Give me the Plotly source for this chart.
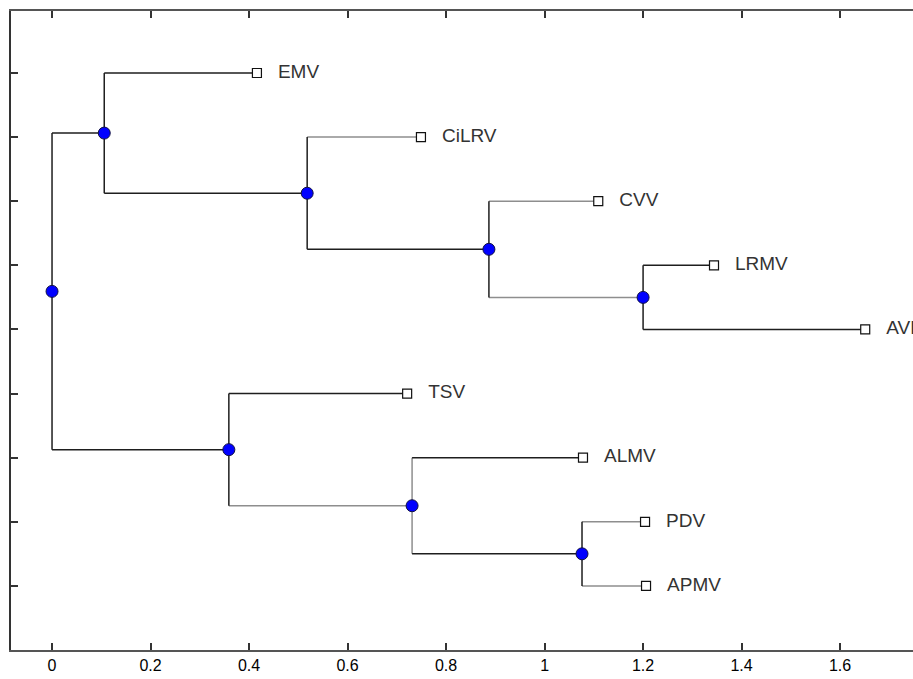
import plotly.graph_objects as go

# ---- data: leaves (top to bottom) and their distances from root
leaf_names = ["EMV", "CiLRV", "CVV", "LRMV", "AVB", "TSV", "ALMV", "PDV", "APMV"]
leaf_dist = [0.416, 0.749, 1.109, 1.344, 1.651, 0.721, 1.078, 1.204, 1.206]

# ---- internal nodes: name, distance from root, children
node_names = ["root", "n1", "n2", "n3", "n4", "n5", "n6", "n7"]
node_dist = [0.0, 0.106, 0.518, 0.887, 1.200, 0.359, 0.731, 1.076]
node_children = [
    ["n1", "n5"],
    ["EMV", "n2"],
    ["CiLRV", "n3"],
    ["CVV", "n4"],
    ["LRMV", "AVB"],
    ["TSV", "n6"],
    ["ALMV", "n7"],
    ["PDV", "APMV"],
]
# colour of the horizontal branch leading into each element ("k" dark, "g" grey)
branch_color = {
    "n1": "k", "n5": "k", "EMV": "k", "n2": "k", "CiLRV": "g", "n3": "k",
    "CVV": "g", "n4": "g", "LRMV": "k", "AVB": "k", "TSV": "k", "n6": "g",
    "ALMV": "k", "n7": "k", "PDV": "g", "APMV": "g",
}
# colour of the vertical connector at each internal node
vertical_color = {"root": "k", "n1": "k", "n2": "k", "n3": "k", "n4": "k",
                  "n5": "k", "n6": "g", "n7": "k"}

COL = {"k": "#1e1e1e", "g": "#8e8e8e"}

# ---- layout computation
xpos = {}
ypos = {}
for i, (n, d) in enumerate(zip(leaf_names, leaf_dist)):
    xpos[n] = d
    ypos[n] = i + 1
children = dict(zip(node_names, node_children))
for n, d in zip(node_names, node_dist):
    xpos[n] = d


def get_y(n):
    if n in ypos:
        return ypos[n]
    ys = [get_y(c) for c in children[n]]
    ypos[n] = sum(ys) / len(ys)
    return ypos[n]


for n in node_names:
    get_y(n)

segs = {"k": ([], []), "g": ([], [])}
for n in node_names:
    cs = children[n]
    vx, vy = segs[vertical_color[n]]
    vx += [xpos[n], xpos[n], None]
    vy += [ypos[cs[0]], ypos[cs[-1]], None]
    for c in cs:
        hx, hy = segs[branch_color[c]]
        hx += [xpos[n], xpos[c], None]
        hy += [ypos[c], ypos[c], None]

fig = go.Figure()
for k in ["g", "k"]:
    fig.add_trace(go.Scatter(x=segs[k][0], y=segs[k][1], mode="lines",
                             line=dict(color=COL[k], width=1.5),
                             hoverinfo="skip", showlegend=False))

# internal nodes
fig.add_trace(go.Scatter(
    x=[xpos[n] for n in node_names], y=[ypos[n] for n in node_names],
    mode="markers", marker=dict(symbol="circle", size=12, color="#0000ff",
                                line=dict(color="#111144", width=1)),
    showlegend=False, hoverinfo="skip"))

# leaves
fig.add_trace(go.Scatter(
    x=[xpos[n] for n in leaf_names], y=[ypos[n] for n in leaf_names],
    mode="markers", marker=dict(symbol="square", size=9, color="white",
                                line=dict(color="#111111", width=1.2)),
    showlegend=False, hoverinfo="skip"))

# leaf labels
fig.add_trace(go.Scatter(
    x=[xpos[n] for n in leaf_names], y=[ypos[n] for n in leaf_names],
    mode="markers+text", text=leaf_names, textposition="middle right",
    marker=dict(size=32, color="rgba(0,0,0,0)"),
    textfont=dict(family="Liberation Sans, Arial, sans-serif", size=19,
                  color="#333333"),
    cliponaxis=True, showlegend=False, hoverinfo="skip"))

fig.update_layout(
    width=913, height=679,
    margin=dict(l=11, r=0, t=11, b=29),
    paper_bgcolor="white", plot_bgcolor="white",
    xaxis=dict(range=[-0.0833, 1.748], tickmode="array",
               tickvals=[0, 0.2, 0.4, 0.6, 0.8, 1, 1.2, 1.4, 1.6],
               ticktext=["0", "0.2", "0.4", "0.6", "0.8", "1", "1.2", "1.4", "1.6"],
               ticks="inside", ticklen=7, tickwidth=1.5, tickcolor="#333333",
               showline=True, linecolor="#555555", linewidth=1.5,
               mirror="ticks", showgrid=False, zeroline=False,
               tickfont=dict(family="Liberation Sans, Arial, sans-serif",
                             size=16, color="#000000")),
    yaxis=dict(range=[10.0, 0.033], tickmode="array",
               tickvals=list(range(1, 10)), showticklabels=False,
               ticks="inside", ticklen=7, tickwidth=1.5, tickcolor="#333333",
               showline=True, linecolor="#333333", linewidth=1.5,
               mirror=False, showgrid=False, zeroline=False),
)

fig.write_html("out.html")
